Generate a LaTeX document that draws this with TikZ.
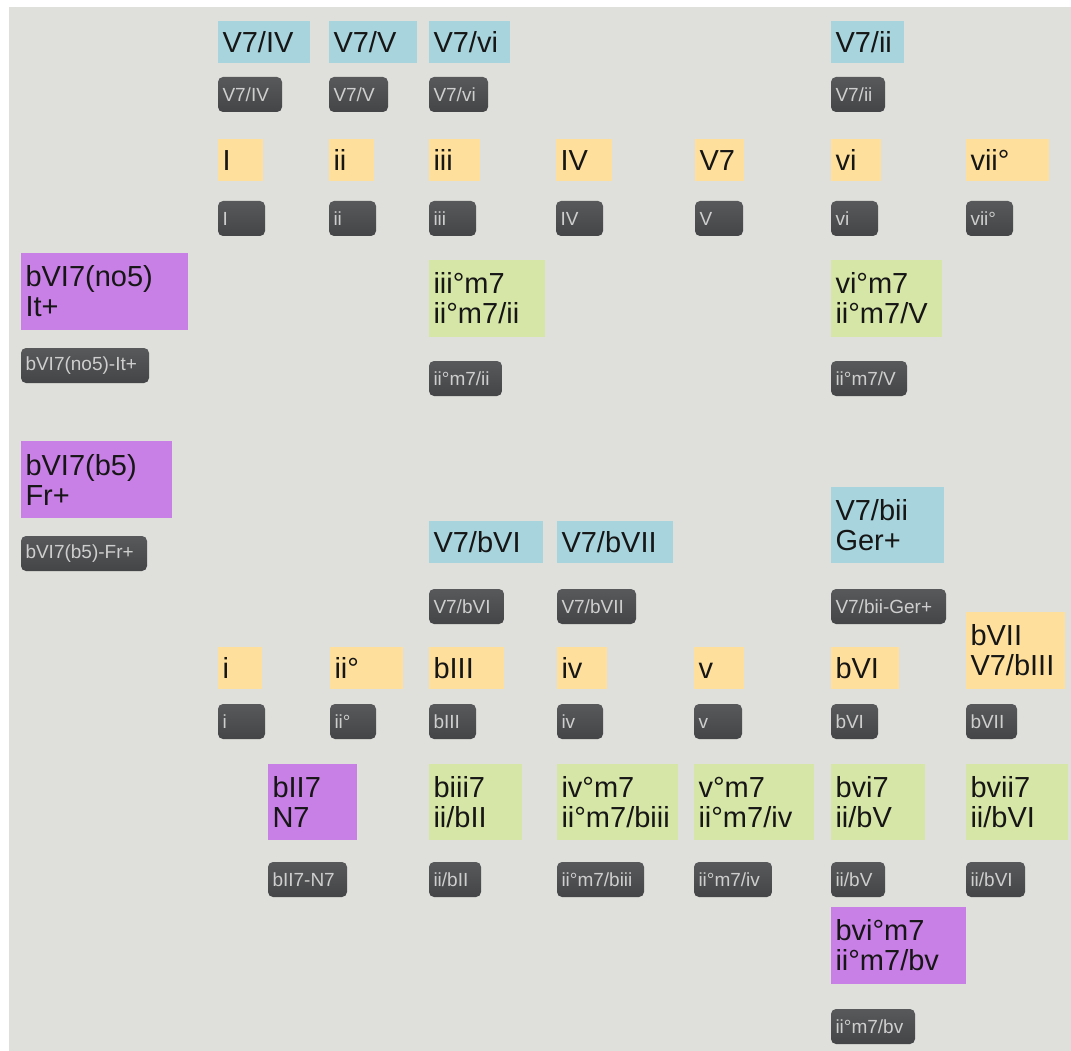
\documentclass[tikz,border=0pt]{standalone}
\usepackage{fontspec}
\setmainfont{Liberation Sans}
\definecolor{bg}{RGB}{223,223,219}
\definecolor{cblue}{RGB}{168,212,221}
\definecolor{cyel}{RGB}{254,224,156}
\definecolor{cgrn}{RGB}{214,230,166}
\definecolor{cpur}{RGB}{201,128,230}
\definecolor{txt}{RGB}{22,22,22}
\definecolor{btntop}{RGB}{88,89,91}
\definecolor{btnbot}{RGB}{68,69,71}
\definecolor{btntxt}{RGB}{206,206,206}
\newcommand\bigfont{\fontsize{29}{30}\selectfont}
\newcommand\smlfont{\fontsize{19}{20}\selectfont}
\tikzset{
  big/.style={font=\bigfont, text=txt, inner xsep=4.5pt, inner ysep=0pt, outer sep=0pt, anchor=north west},
  blu/.style={big, fill=cblue},
  yel/.style={big, fill=cyel},
  grn/.style={big, fill=cgrn},
  pur/.style={big, fill=cpur},
  btn/.style={font=\smlfont, text=btntxt, rounded corners=5pt, top color=btntop, bottom color=btnbot, inner xsep=4.5pt, inner ysep=0pt, outer sep=0pt, anchor=north west}
}
\newcommand\cb[7]{%
  \pgfmathsetmacro\cbw{#5-#3}%
  \pgfmathsetmacro\cbh{#6-#4}%
  \pgfmathsetmacro\cbt{#5-#3-9}%
  \node[#1, minimum width=\cbw pt, minimum height=\cbh pt, text width=\cbt pt, align=left] (#2) at (#3,#4) {\vphantom{Ib}#7};}
\begin{document}
\begin{tikzpicture}[x=1pt,y=-1pt]
\hyphenpenalty=10000 \exhyphenpenalty=10000
\useasboundingbox (0,0) rectangle (1071,1051);
\fill[white] (0,0) rectangle (1071,1051);
\fill[bg] (9,7) rectangle (1071,1051);
% top secondary dominants
\cb{blu}{a1}{218}{21}{310}{63}{V7/IV}
\cb{blu}{a2}{329}{21}{417}{63}{V7/V}
\cb{blu}{a3}{429}{21}{510}{63}{V7/vi}
\cb{blu}{a6}{831}{21}{904}{63}{V7/ii}
\cb{btn}{ab1}{218}{77}{282}{112}{V7/IV}
\cb{btn}{ab2}{329}{77}{388}{112}{V7/V}
\cb{btn}{ab3}{429}{77}{488}{112}{V7/vi}
\cb{btn}{ab6}{831}{77}{885}{112}{V7/ii}
% major diatonic
\cb{yel}{m1}{218}{139}{263}{181}{I}
\cb{yel}{m2}{329}{139}{374}{181}{ii}
\cb{yel}{m3}{429}{139}{480}{181}{iii}
\cb{yel}{m4}{556}{139}{612}{181}{IV}
\cb{yel}{m5}{695}{139}{744}{181}{V7}
\cb{yel}{m6}{831}{139}{881}{181}{vi}
\cb{yel}{m7}{966}{139}{1049}{181}{vii°}
\cb{btn}{mb1}{218}{201}{265}{236}{I}
\cb{btn}{mb2}{329}{201}{376}{236}{ii}
\cb{btn}{mb3}{429}{201}{476}{236}{iii}
\cb{btn}{mb4}{556}{201}{603}{236}{IV}
\cb{btn}{mb5}{695}{201}{743}{236}{V}
\cb{btn}{mb6}{831}{201}{878}{236}{vi}
\cb{btn}{mb7}{966}{201}{1013}{236}{vii°}
% augmented sixths / half-diminished
\cb{pur}{it}{21}{253}{188}{330}{bVI7(no5)\\It+}
\cb{grn}{g3}{429}{260}{545}{337}{iii°m7\\ii°m7/ii}
\cb{grn}{g6}{831}{260}{942}{337}{vi°m7\\ii°m7/V}
\cb{btn}{itb}{21}{348}{149}{383}{bVI7(no5)-It+}
\cb{btn}{g3b}{429}{361}{502}{396}{ii°m7/ii}
\cb{btn}{g6b}{831}{361}{907}{396}{ii°m7/V}
\cb{pur}{fr}{21}{441}{172}{518}{bVI7(b5)\\Fr+}
\cb{btn}{frb}{21}{536}{147}{571}{bVI7(b5)-Fr+}
% minor secondary dominants
\cb{blu}{c3}{429}{521}{543}{563}{V7/bVI}
\cb{blu}{c4}{557}{521}{673}{563}{V7/bVII}
\cb{blu}{c6}{831}{487}{944}{563}{V7/bii\\Ger+}
\cb{btn}{cb3}{429}{589}{504}{624}{V7/bVI}
\cb{btn}{cb4}{557}{589}{636}{624}{V7/bVII}
\cb{btn}{cb6}{831}{589}{946}{624}{V7/bii-Ger+}
% minor diatonic
\cb{yel}{n1}{218}{647}{262}{689}{i}
\cb{yel}{n2}{330}{647}{403}{689}{ii°}
\cb{yel}{n3}{429}{647}{504}{689}{bIII}
\cb{yel}{n4}{557}{647}{607}{689}{iv}
\cb{yel}{n5}{694}{647}{744}{689}{v}
\cb{yel}{n6}{831}{647}{899}{689}{bVI}
\cb{yel}{n7}{966}{612}{1065}{689}{bVII\\V7/bIII}
\cb{btn}{nb1}{218}{704}{265}{739}{i}
\cb{btn}{nb2}{330}{704}{376}{739}{ii°}
\cb{btn}{nb3}{429}{704}{476}{739}{bIII}
\cb{btn}{nb4}{557}{704}{603}{739}{iv}
\cb{btn}{nb5}{694}{704}{742}{739}{v}
\cb{btn}{nb6}{831}{704}{878}{739}{bVI}
\cb{btn}{nb7}{966}{704}{1017}{739}{bVII}
% minor ii chords
\cb{pur}{p2}{268}{764}{357}{840}{bII7\\N7}
\cb{grn}{p3}{429}{764}{522}{840}{biii7\\ii/bII}
\cb{grn}{p4}{557}{764}{678}{840}{iv°m7\\ii°m7/biii}
\cb{grn}{p5}{694}{764}{814}{840}{v°m7\\ii°m7/iv}
\cb{grn}{p6}{831}{764}{925}{840}{bvi7\\ii/bV}
\cb{grn}{p7}{966}{764}{1068}{840}{bvii7\\ii/bVI}
\cb{btn}{pb2}{268}{862}{347}{897}{bII7-N7}
\cb{btn}{pb3}{429}{862}{481}{897}{ii/bII}
\cb{btn}{pb4}{557}{862}{644}{897}{ii°m7/biii}
\cb{btn}{pb5}{694}{862}{772}{897}{ii°m7/iv}
\cb{btn}{pb6}{831}{862}{885}{897}{ii/bV}
\cb{btn}{pb7}{966}{862}{1025}{897}{ii/bVI}
\cb{pur}{q6}{831}{907}{966}{984}{bvi°m7\\ii°m7/bv}
\cb{btn}{qb6}{831}{1009}{915}{1044}{ii°m7/bv}
\end{tikzpicture}
\end{document}
